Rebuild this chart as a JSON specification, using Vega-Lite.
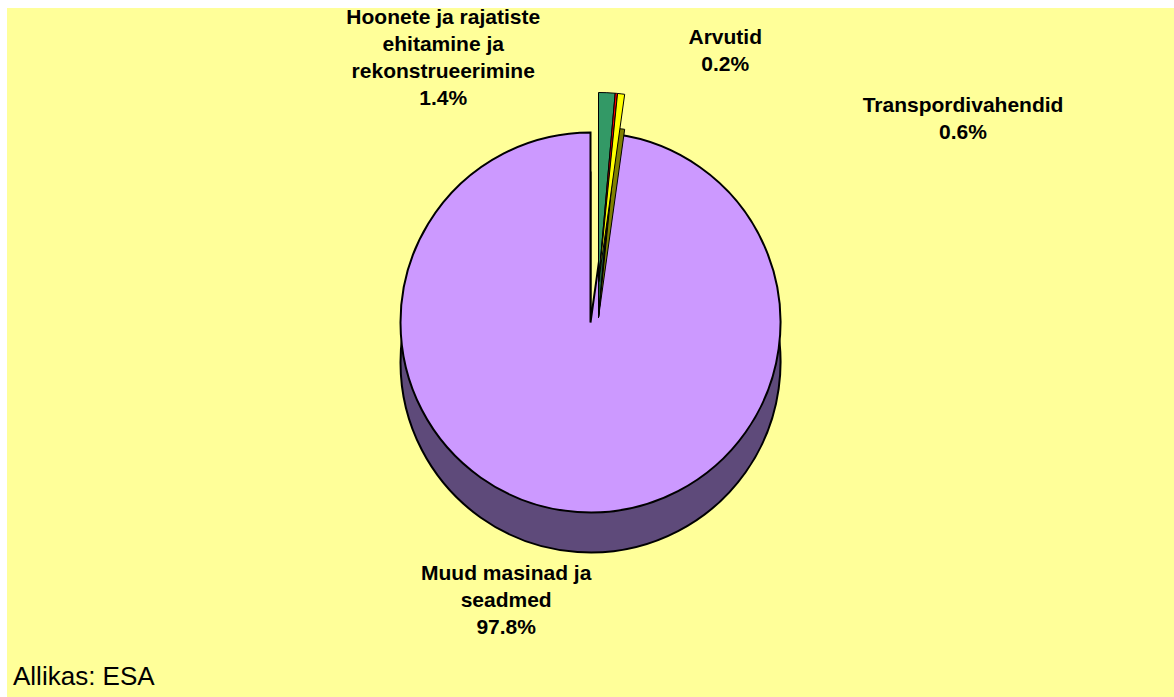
{
  "$schema": "https://vega.github.io/schema/vega-lite/v6.json",
  "autosize": {"type": "fit", "contains": "padding"},
  "width": 1174,
  "height": 697,
  "padding": {"top": 8, "left": 7, "right": 0, "bottom": 0},
  "background": "white",
  "view": {"fill": "#FFFF99", "stroke": null},
  "config": {"view": {"stroke": null, "fill": "#FFFF99"}},
  "title": {"text": "Allikas: ESA", "orient": "bottom", "anchor": "start", "offset": -33, "dx": 6, "fontSize": 26, "font": "Liberation Sans", "fontWeight": "normal", "color": "black"},
  "data": {"values": [
    {"category": "Hoonete ja rajatiste ehitamine ja rekonstrueerimine", "label": "Hoonete ja rajatiste\nehitamine ja\nrekonstrueerimine\n1.4%", "pct": 1.4, "ord": 1},
    {"category": "Arvutid", "label": "Arvutid\n0.2%", "pct": 0.2, "ord": 2},
    {"category": "Transpordivahendid", "label": "Transpordivahendid\n0.6%", "pct": 0.6, "ord": 3},
    {"category": "Muud masinad ja seadmed", "label": "Muud masinad ja\nseadmed\n97.8%", "pct": 97.8, "ord": 4}
  ]},
  "resolve": {"scale": {"color": "independent", "opacity": "independent"}},
  "layer": [
    {
      "mark": {"type": "arc", "outerRadius": 190, "yOffset": 10, "stroke": "black", "strokeWidth": 2},
      "encoding": {
        "theta": {"field": "pct", "type": "quantitative", "stack": true},
        "order": {"field": "ord", "type": "quantitative"},
        "color": {"field": "category", "type": "nominal", "legend": null,
          "scale": {"domain": ["Hoonete ja rajatiste ehitamine ja rekonstrueerimine", "Arvutid", "Transpordivahendid", "Muud masinad ja seadmed"], "range": ["#5E4A7A", "#5E4A7A", "#5E4A7A", "#5E4A7A"]}},
        "opacity": {"condition": {"test": "datum.ord == 4", "value": 1}, "value": 0}
      }
    },
    {
      "mark": {"type": "arc", "outerRadius": 190, "yOffset": -30, "stroke": "black", "strokeWidth": 2},
      "encoding": {
        "theta": {"field": "pct", "type": "quantitative", "stack": true},
        "order": {"field": "ord", "type": "quantitative"},
        "color": {"field": "category", "type": "nominal", "legend": null,
          "scale": {"domain": ["Hoonete ja rajatiste ehitamine ja rekonstrueerimine", "Arvutid", "Transpordivahendid", "Muud masinad ja seadmed"], "range": ["#CC99FF", "#CC99FF", "#CC99FF", "#CC99FF"]}},
        "opacity": {"condition": {"test": "datum.ord == 4", "value": 1}, "value": 0}
      }
    },
    {
      "mark": {"type": "arc", "outerRadius": 190, "yOffset": -35, "xOffset": 8, "stroke": "black", "strokeWidth": 1},
      "encoding": {
        "theta": {"field": "pct", "type": "quantitative", "stack": true},
        "order": {"field": "ord", "type": "quantitative"},
        "color": {"field": "category", "type": "nominal", "legend": null,
          "scale": {"domain": ["Hoonete ja rajatiste ehitamine ja rekonstrueerimine", "Arvutid", "Transpordivahendid", "Muud masinad ja seadmed"], "range": ["#1C5A3C", "#800000", "#808000", "#5E4A7A"]}},
        "opacity": {"condition": {"test": "datum.ord == 4", "value": 0}, "value": 1}
      }
    },
    {
      "mark": {"type": "arc", "outerRadius": 190, "yOffset": -70, "xOffset": 8, "stroke": "black", "strokeWidth": 1},
      "encoding": {
        "theta": {"field": "pct", "type": "quantitative", "stack": true},
        "order": {"field": "ord", "type": "quantitative"},
        "color": {"field": "category", "type": "nominal", "legend": null,
          "scale": {"domain": ["Hoonete ja rajatiste ehitamine ja rekonstrueerimine", "Arvutid", "Transpordivahendid", "Muud masinad ja seadmed"], "range": ["#339966", "#FF0000", "#FFFF00", "#CC99FF"]}},
        "opacity": {"condition": {"test": "datum.ord == 4", "value": 0}, "value": 1}
      }
    },
    {
      "mark": {"type": "text", "font": "Liberation Sans", "fontWeight": "bold", "fontSize": 21, "lineHeight": 27, "lineBreak": "\n", "align": "center", "baseline": "middle", "color": "black",
        "radius": {"expr": "datum.ord == 1 ? 335 : datum.ord == 2 ? 316 : datum.ord == 3 ? 248 : 222"},
        "dx": {"expr": "datum.ord == 1 ? -162 : datum.ord == 2 ? 105 : datum.ord == 3 ? 343 : -69"}},
      "encoding": {
        "theta": {"field": "pct", "type": "quantitative", "stack": true},
        "order": {"field": "ord", "type": "quantitative"},
        "text": {"field": "label", "type": "nominal"}
      }
    }
  ]
}
